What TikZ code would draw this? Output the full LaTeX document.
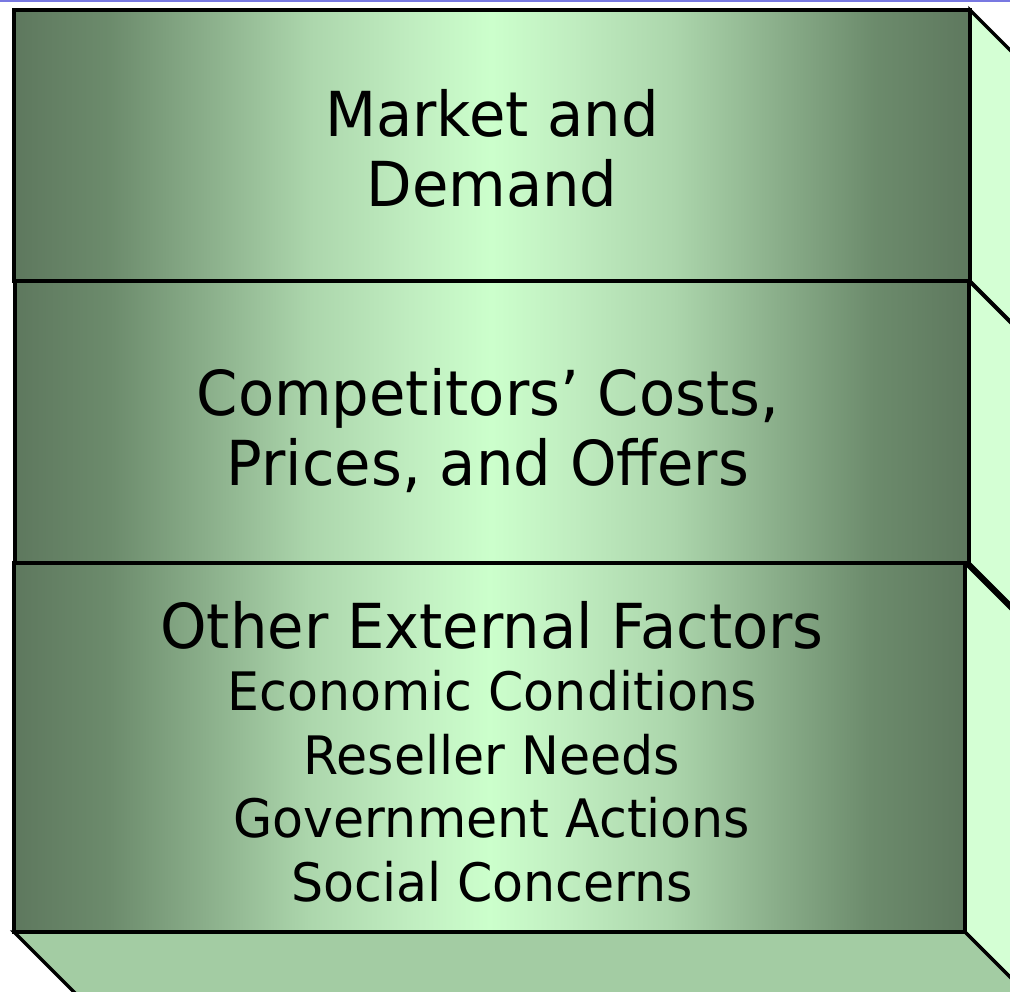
\documentclass[tikz,border=0pt]{standalone}
\usepackage{fontspec}
\setmainfont{DejaVu Sans}[FakeStretch=0.955]
\definecolor{frontdark}{RGB}{94,120,94}
\definecolor{frontlight}{RGB}{204,255,204}
\definecolor{sidegreen}{RGB}{212,255,212}
\definecolor{floorgreen}{RGB}{163,204,163}
\definecolor{rule}{RGB}{120,120,225}
\definecolor{fa}{HTML}{6C8B6C}
\definecolor{fb}{HTML}{8AAE8A}
\definecolor{fc}{HTML}{ACD6AC}
\definecolor{fd}{HTML}{C0EDC0}
% dark edges, pale middle; the path spans 25bp..75bp
\pgfdeclarehorizontalshading{frontshade}{100bp}{%
  color(0bp)=(frontdark); color(25bp)=(frontdark);
  color(30bp)=(fa); color(35bp)=(fb); color(40.5bp)=(fc); color(45.75bp)=(fd);
  color(50bp)=(frontlight);
  color(54.25bp)=(fd); color(59.5bp)=(fc); color(65bp)=(fb); color(70bp)=(fa);
  color(75bp)=(frontdark); color(100bp)=(frontdark)}
\begin{document}
\begin{tikzpicture}[x=1pt,y=-1pt,
  edge/.style={draw=black,line width=3.4pt,line join=miter},
  front/.style={edge,shading=frontshade},
  side/.style={edge,fill=sidegreen},
  floor/.style={edge,fill=floorgreen},
  title/.style={font=\fontsize{62}{70}\selectfont,align=center,inner sep=0pt},
  sub/.style={font=\fontsize{53}{63.5}\selectfont,align=center,inner sep=0pt}]
\useasboundingbox (0,0) rectangle (1010,992);
\begin{scope}
\clip (0,0) rectangle (1010,992);
% depth faces, offset (d,d)
\def\d{90}
\path[side] (970,10) -- ++(\d,\d) -- ++(0,271) -- (970,281) -- cycle;
\path[side] (969,281) -- ++(\d,\d) -- ++(0,282) -- (969,563) -- cycle;
\path[side] (965,563) -- ++(\d,\d) -- ++(0,369) -- (965,932) -- cycle;
\path[floor] (14,932) -- (965,932) -- ++(\d,\d) -- (14+\d,932+\d) -- cycle;
% front faces
\path[front] (14,10) rectangle (970,281);
\path[front] (15,281) rectangle (969,563);
\path[front] (14,563) rectangle (965,932);
\end{scope}
\draw[rule,line width=2pt] (0,1) -- (1010,1);
% labels (base anchor sits on the last line)
\node[title,anchor=base] (market) at (492,207) {Market and\\Demand};
\node[title,anchor=base] (comp) at (488,485) {Competitors’ Costs,\\Prices, and Offers};
\node[title,anchor=base] (other) at (492,648) {Other External Factors};
\node[sub,anchor=base] (list) at (492,901) {Economic Conditions\\Reseller Needs\\Government Actions\\Social Concerns};
\end{tikzpicture}
\end{document}
